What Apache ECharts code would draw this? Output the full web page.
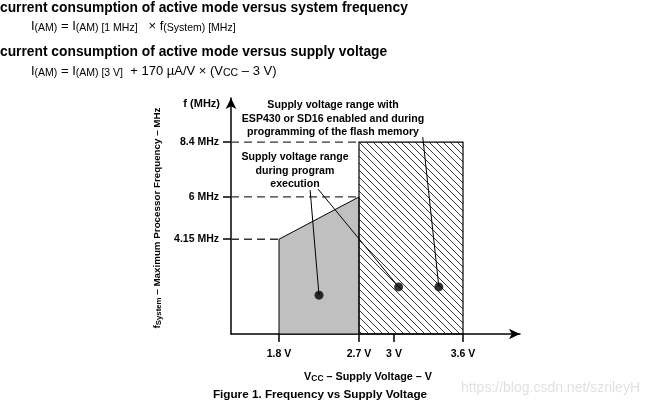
<!DOCTYPE html>
<html><head><meta charset="utf-8">
<script src="https://cdn.jsdelivr.net/npm/echarts@6/dist/echarts.min.js"></script>
<style>html,body{margin:0;padding:0;background:#fff}#c{width:647px;height:407px}</style>
</head><body><div id="c"></div>
<script>
// ---- data ----
const voltTicks = [1.8, 2.7, 3.0, 3.6];
const voltLabels = ['1.8 V', '2.7 V', '3 V', '3.6 V'];
// schematic (not to scale) position of each tick voltage along the drawn x axis
const voltAxisPos = [48, 128, 163, 232];
const axisSpan = 289;
const freqTicks = [4.15, 6, 8.4];
const freqMax = 10.33;
// grey region: supply voltage range during program execution
const execV = [1.8, 1.8, 2.7, 2.7];
const execF = [0, 4.15, 6, 0];
// hatched region: ESP430/SD16 enabled and flash programming
const flashV = [2.7, 2.7, 3.6, 3.6];
const flashF = [0, 8.4, 8.4, 0];
// dashed guide lines (frequency, voltage where they end)
const guideF = [4.15, 6, 8.4];
const guideToV = [1.8, 2.7, 2.7];
// annotation dots and leader line starts
const dotV = [2.25, 3.04, 3.39];
const dotF = [1.7, 2.06, 2.06];
const leaderV = [2.15, 2.24, 3.25];
const leaderF = [6.3, 6.34, 8.62];

// piecewise map of a voltage onto the schematic axis
function vx(v) {
  let i = 0;
  while (i < voltTicks.length - 2 && v > voltTicks[i + 1]) i++;
  const t = (v - voltTicks[i]) / (voltTicks[i + 1] - voltTicks[i]);
  return voltAxisPos[i] + t * (voltAxisPos[i + 1] - voltAxisPos[i]);
}

// hatch pattern
const hatch = document.createElement('canvas');
hatch.width = 7; hatch.height = 7;
(function () {
  const g = hatch.getContext('2d');
  g.strokeStyle = '#222'; g.lineWidth = 0.9;
  for (let k = -1; k <= 1; k++) {
    g.beginPath(); g.moveTo(k * 7 - 1, -1); g.lineTo(k * 7 + 8, 8); g.stroke();
  }
})();

const FF = 'Liberation Sans, Arial, sans-serif';
const chart = echarts.init(document.getElementById('c'), null, { renderer: 'canvas' });

const series = [];
series.push({
  type: 'custom', silent: true, clip: false, z: 2, data: [0],
  renderItem: (p, api) => ({
    type: 'polygon',
    shape: { points: execV.map((v, i) => api.coord([vx(v), execF[i]])) },
    style: { fill: '#c0c0c0', stroke: '#000', lineWidth: 1 }
  })
});
series.push({
  type: 'custom', silent: true, clip: false, z: 2, data: [0],
  renderItem: (p, api) => ({
    type: 'polygon',
    shape: { points: flashV.map((v, i) => api.coord([vx(v), flashF[i]])) },
    style: { fill: { image: hatch, repeat: 'repeat' }, stroke: '#000', lineWidth: 1.2 }
  })
});
guideF.forEach((f, i) => series.push({
  type: 'line', silent: true, symbol: 'none', z: 3,
  data: [[0, f], [vx(guideToV[i]), f]],
  lineStyle: { color: '#333', width: 1.4, type: [8, 5] }
}));
dotV.forEach((v, i) => series.push({
  type: 'line', silent: true, symbol: 'none', z: 4,
  data: [[vx(leaderV[i]), leaderF[i]], [vx(v), dotF[i]]],
  lineStyle: { color: '#000', width: 1 }
}));
series.push({
  type: 'scatter', silent: true, z: 5, symbolSize: 9,
  itemStyle: { color: '#000' },
  data: dotV.map((v, i) => [vx(v), dotF[i]])
});

const sub = (sz, w) => ({ fontSize: sz, fontWeight: w, fontFamily: FF, color: '#000', verticalAlign: 'bottom', lineHeight: sz });

chart.setOption({
  animation: false,
  grid: { left: 231, top: 98, width: 289, height: 236, containLabel: false },
  xAxis: {
    type: 'value', min: 0, max: axisSpan,
    axisLine: { show: true, symbol: ['none', 'arrow'], symbolSize: [8, 11], lineStyle: { color: '#000', width: 1.5 } },
    axisTick: { show: true, customValues: voltAxisPos, length: 8, inside: false, lineStyle: { color: '#000', width: 1.5 } },
    axisLabel: { show: true, customValues: voltAxisPos, margin: 15, color: '#000', fontWeight: 'bold', fontSize: 10.5, fontFamily: FF,
      formatter: v => voltLabels[voltAxisPos.indexOf(v)] || '' },
    splitLine: { show: false }
  },
  yAxis: {
    type: 'value', min: 0, max: freqMax,
    axisLine: { show: true, symbol: ['none', 'arrow'], symbolSize: [8, 11], lineStyle: { color: '#000', width: 1.5 } },
    axisTick: { show: true, customValues: freqTicks, length: 8, inside: false, lineStyle: { color: '#000', width: 1.5 } },
    axisLabel: { show: true, customValues: freqTicks, margin: 12, color: '#000', fontWeight: 'bold', fontSize: 10.5, fontFamily: FF,
      formatter: v => v + ' MHz' },
    splitLine: { show: false }
  },
  series: series,
  graphic: [
    { type: 'text', x: 0, y: 8, style: { text: 'current consumption of active mode versus system frequency', fontSize: 13.8, fontWeight: 'bold', fontFamily: FF, fill: '#000', verticalAlign: 'middle' } },
    { type: 'text', x: 31, y: 26, style: {
      text: '{n|I}{s|(AM)}{n| = I}{s|(AM) [1 MHz]}{n|   × f}{s|(System) [MHz]}', verticalAlign: 'middle',
      rich: { n: { fontSize: 13, fontFamily: FF, color: '#000', lineHeight: 16 }, s: sub(10.5, 'normal') } } },
    { type: 'text', x: 0, y: 52, style: { text: 'current consumption of active mode versus supply voltage', fontSize: 13.8, fontWeight: 'bold', fontFamily: FF, fill: '#000', verticalAlign: 'middle' } },
    { type: 'text', x: 31, y: 71, style: {
      text: '{n|I}{s|(AM)}{n| = I}{s|(AM) [3 V]}{n|  + 170 µA/V × (V}{s|CC}{n| – 3 V)}', verticalAlign: 'middle',
      rich: { n: { fontSize: 13, fontFamily: FF, color: '#000', lineHeight: 16 }, s: sub(10.5, 'normal') } } },
    { type: 'text', x: 220, y: 104, style: { text: 'f (MHz)', fontSize: 11, fontWeight: 'bold', fontFamily: FF, fill: '#000', align: 'right', verticalAlign: 'middle' } },
    { type: 'text', x: 157, y: 218, rotation: Math.PI / 2, style: {
      text: '{b|f}{s|System}{b| – Maximum Processor Frequency – MHz}', align: 'center', verticalAlign: 'middle',
      rich: { b: { fontSize: 9.8, fontWeight: 'bold', fontFamily: FF, color: '#000', lineHeight: 12 }, s: sub(7.8, 'bold') } } },
    { type: 'text', x: 333, y: 119, style: { text: 'Supply voltage range with\nESP430 or SD16 enabled and during\nprogramming of the flash memory', fontSize: 10.6, fontWeight: 'bold', fontFamily: FF, fill: '#000', align: 'center', verticalAlign: 'middle', lineHeight: 13.5 } },
    { type: 'text', x: 295, y: 171, style: { text: 'Supply voltage range\nduring program\nexecution', fontSize: 10.6, fontWeight: 'bold', fontFamily: FF, fill: '#000', align: 'center', verticalAlign: 'middle', lineHeight: 13.5 } },
    { type: 'text', x: 368, y: 377, style: {
      text: '{b|V}{s|CC}{b| – Supply Voltage – V}', align: 'center', verticalAlign: 'middle',
      rich: { b: { fontSize: 10.8, fontWeight: 'bold', fontFamily: FF, color: '#000', lineHeight: 13 }, s: sub(8.5, 'bold') } } },
    { type: 'text', x: 320, y: 395, style: { text: 'Figure 1. Frequency vs Supply Voltage', fontSize: 11.7, fontWeight: 'bold', fontFamily: FF, fill: '#000', align: 'center', verticalAlign: 'middle' } },
    { type: 'text', x: 640, y: 388, style: { text: 'https://blog.csdn.net/szrileyH', fontSize: 14, fontFamily: FF, fill: 'rgba(0,0,0,0.13)', align: 'right', verticalAlign: 'middle' } }
  ]
});
</script></body></html>
